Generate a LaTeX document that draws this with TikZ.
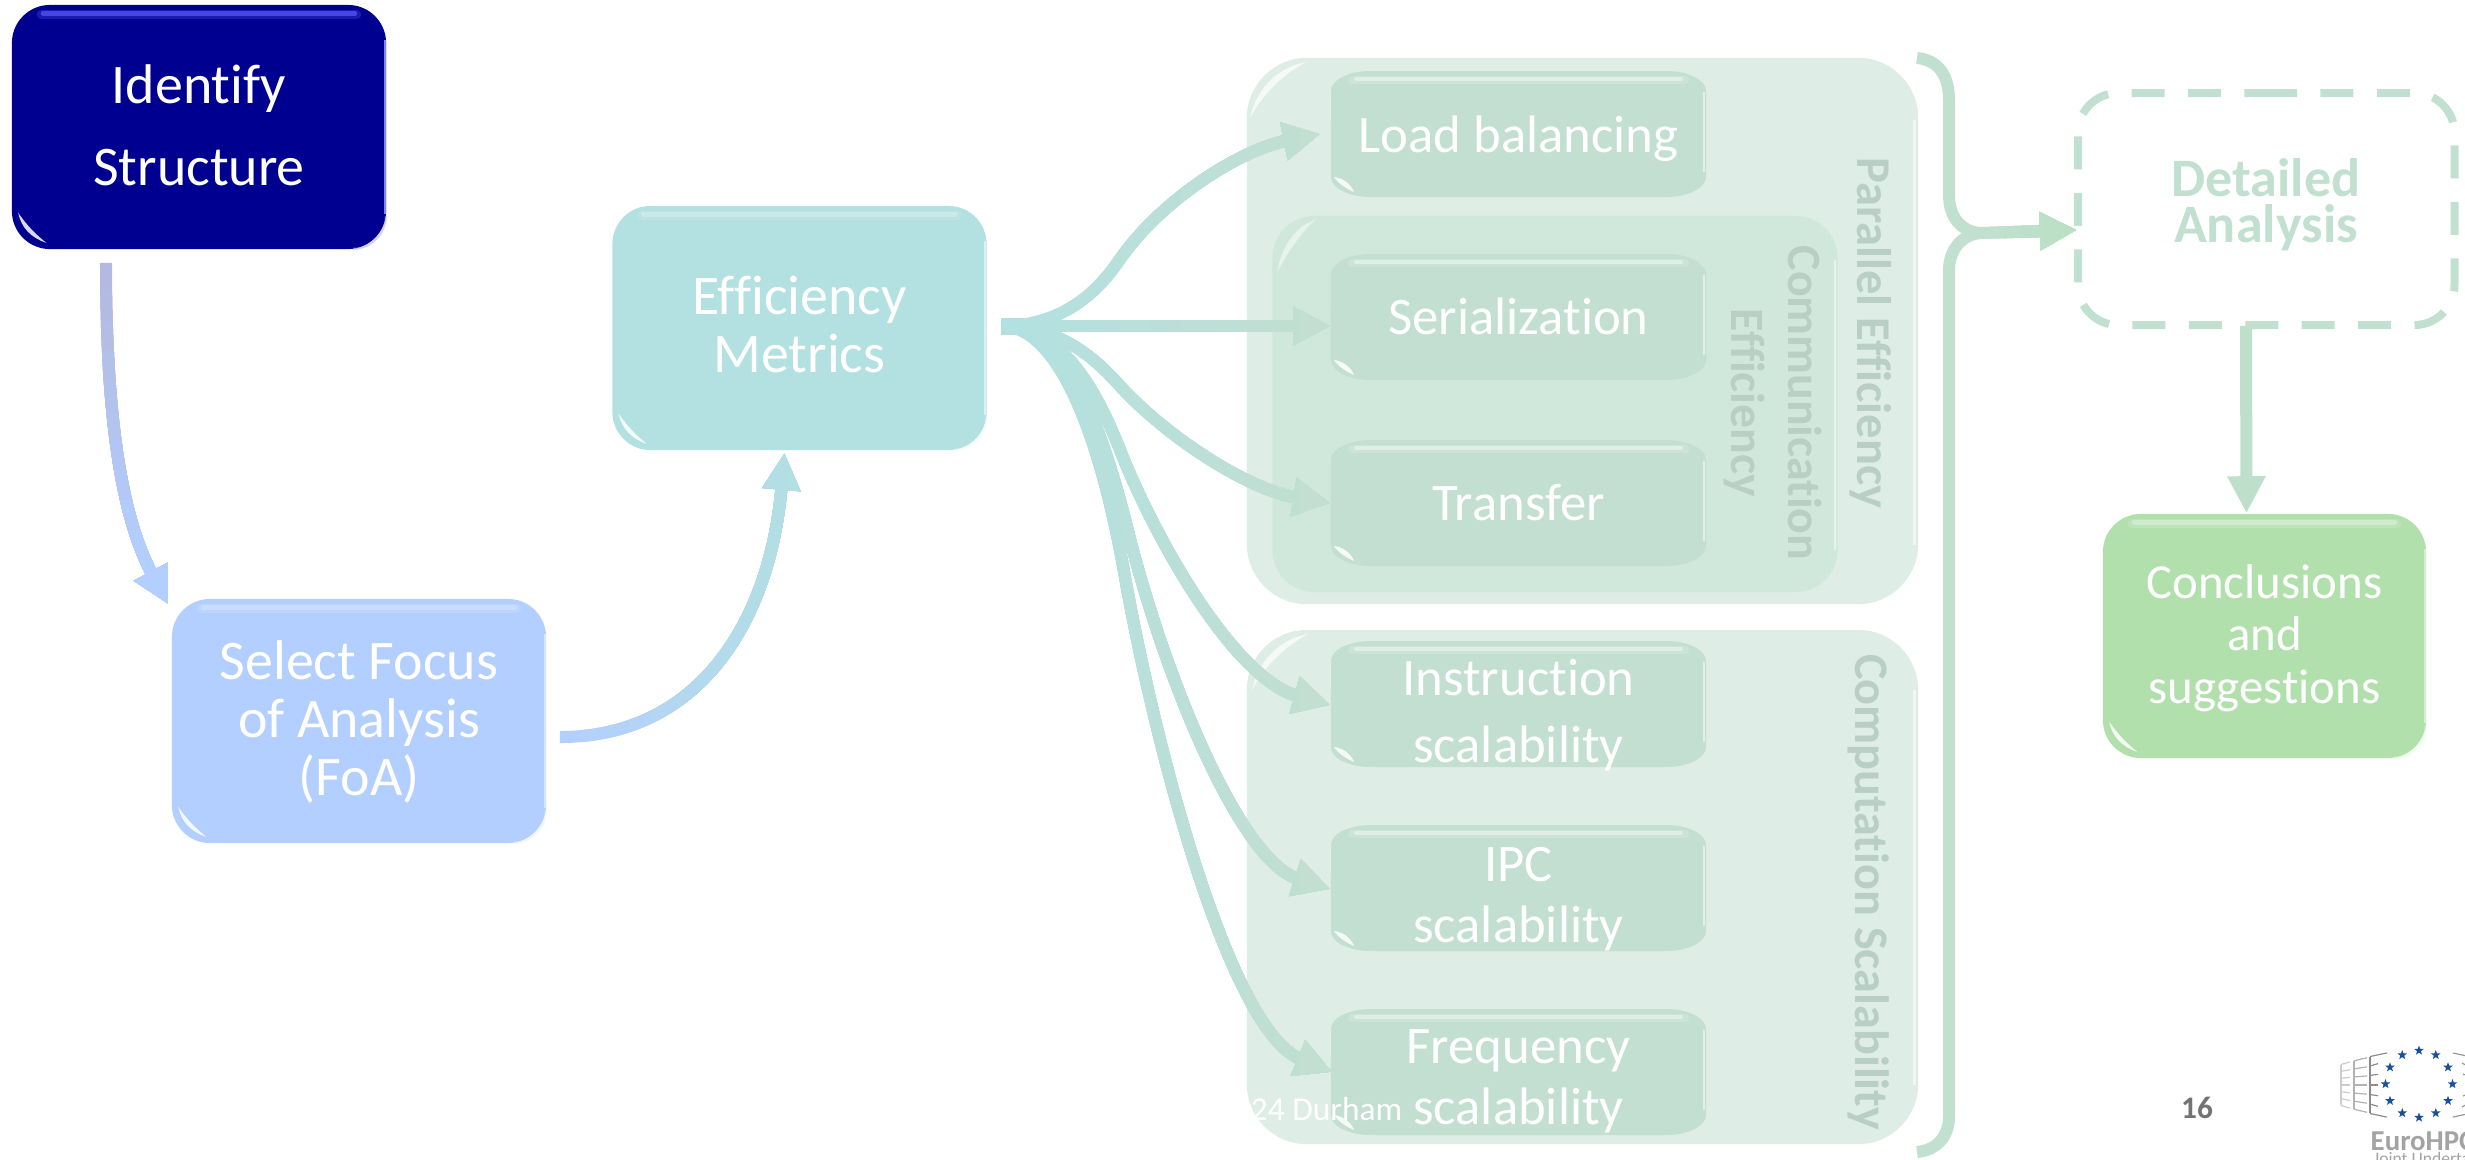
\documentclass[tikz,border=0pt]{standalone}
\usepackage{fontspec}
\setmainfont{Carlito}[Ligatures=NoCommon]
\usetikzlibrary{arrows.meta,shapes.geometric}
\definecolor{cId}{HTML}{000090}
\definecolor{cSel}{HTML}{B3CFFF}
\definecolor{cEff}{HTML}{B3E0E0}
\definecolor{cSoft}{HTML}{C2DFD2}
\definecolor{cOut}{HTML}{DEEDE6}
\definecolor{cCom}{HTML}{D0E7DC}
\definecolor{cCon}{HTML}{B2E0AC}
\definecolor{cDet}{HTML}{C2E0D0}
\definecolor{cLab}{HTML}{B9CFC6}
\definecolor{cIdArrow}{HTML}{B3B9E0}
\definecolor{cConArrow}{HTML}{BBE0C4}
\definecolor{cStar}{HTML}{1A4FA0}
\definecolor{cGrey}{HTML}{A3A3A3}
\tikzset{
  x=0.01cm,y=-0.01cm,
  bigbox/.style={rounded corners=.38cm,minimum width=3.74cm,minimum height=2.44cm,inner sep=0pt,text=white},
  softtxt/.style={inner sep=0pt,text=white,minimum width=3.75cm,minimum height=1.26cm},
  conn/.style={line width=.12cm,-{Triangle[length=.37cm,width=.36cm]}},
  vlabel/.style={rotate=-90,inner sep=0pt,align=center,text=cLab,font=\bfseries\fontsize{13.8}{14}\selectfont},
}
% centred text block moved up by #1 inside its node
\newcommand{\tx}[2]{\raisebox{\dimexpr#1-4.5pt\relax}[0pt][0pt]{\parbox{3.22cm}{\centering #2}}}
% progressive clipping along x, each step painted over the last
\newcommand{\gradx}[5]{\foreach \i in {0,...,10}{\begin{scope}
  \pgfmathsetmacro{\bx}{#1+(#2-#1)*\i/10}\pgfmathtruncatemacro{\mix}{100-10*\i}
  \clip (\bx,-100) rectangle (3000,1300);
  \draw[conn,draw=#3!\mix!#4] #5;
\end{scope}}}
\newcommand{\grady}[5]{\foreach \i in {0,...,10}{\begin{scope}
  \pgfmathsetmacro{\by}{#1+(#2-#1)*\i/10}\pgfmathtruncatemacro{\mix}{100-10*\i}
  \clip (-100,\by) rectangle (3000,1300);
  \draw[conn,draw=#3!\mix!#4] #5;
\end{scope}}}
% gloss on a big box: node name, top colour, right colour
\newcommand{\gloss}[3]{%
  \draw[line width=.09cm,draw=#2,opacity=.3,line cap=round] ([shift={(30,10)}]#1.north west) -- ([shift={(-30,10)}]#1.north east);
  \draw[line width=.05cm,draw=#2,opacity=.7,line cap=round] ([shift={(32,9)}]#1.north west) -- ([shift={(-32,9)}]#1.north east);
  \draw[line width=.02cm,draw=#3,opacity=.8] ([shift={(-2,36)}]#1.north east) -- ([shift={(-2,-36)}]#1.south east);
  \draw[line width=.02cm,draw=#3,opacity=.5] ([shift={(-34,-1)}]#1.south east) arc[start angle=-90,end angle=0,radius=.33cm];
  \fill[white,opacity=.85,shift={(#1.south west)}] (7,-37) .. controls (10,-22) and (20,-12) .. (35,-7) .. controls (24,-16) and (16,-24) .. cycle;
}
% soft-cornered box with its text: name, cy, text, font leading, text shift
\newcommand{\softbox}[5]{%
  \fill[cSoft] (1371,{#2-63}) -- (1666,{#2-63}) arc[start angle=90,end angle=0,x radius=.4cm,y radius=.2cm]
    -- (1706,{#2+43}) arc[start angle=0,end angle=-90,x radius=.4cm,y radius=.2cm]
    -- (1371,{#2+63}) arc[start angle=270,end angle=180,x radius=.4cm,y radius=.2cm]
    -- (1331,{#2-43}) arc[start angle=180,end angle=90,x radius=.4cm,y radius=.2cm] -- cycle;
  \draw[line width=.08cm,draw=white,opacity=.15,line cap=round] (1352,{#2-54}) -- (1685,{#2-54});
  \draw[line width=.04cm,draw=white,opacity=.4,line cap=round] (1356,{#2-55}) -- (1681,{#2-55});
  \draw[line width=.02cm,draw=white,opacity=.55] (1704,{#2-42}) -- (1704,{#2+38});
  \fill[white,opacity=.85] (1334,{#2+43}) .. controls (1338,{#2+49}) and (1345,{#2+54}) .. (1354,{#2+58}) .. controls (1351,{#2+50}) and (1343,{#2+44}) .. cycle;
  \node[softtxt,font=\fontsize{15}{#4}\selectfont] (#1) at (1518.5,#2) {\tx{#5}{#3}};
}
\begin{document}
\begin{tikzpicture}
\useasboundingbox (0,0) rectangle (2465,1159);
% outer panels
\node[rounded corners=.6cm,fill=cOut,minimum width=6.71cm,minimum height=5.46cm,inner sep=0pt] (par) at (1582.5,331) {};
\node[rounded corners=.6cm,fill=cOut,minimum width=6.71cm,minimum height=5.14cm,inner sep=0pt] (cmp) at (1582.5,887) {};
\fill[white,opacity=.7] (1250,118) .. controls (1256,90) and (1276,68) .. (1306,62) .. controls (1284,74) and (1264,92) .. cycle;
\fill[white,opacity=.7] (1252,690) .. controls (1258,662) and (1278,640) .. (1308,634) .. controls (1286,646) and (1266,664) .. cycle;
\draw[line width=.03cm,draw=white,opacity=.6] (1914,120) -- (1914,545);
\draw[line width=.03cm,draw=white,opacity=.6] (1914,690) -- (1914,1085);
\node[rounded corners=.42cm,fill=cCom,minimum width=5.65cm,minimum height=3.76cm,inner sep=0pt] (com) at (1555,404) {};
\fill[white,opacity=.5] (1277,272) .. controls (1282,245) and (1296,226) .. (1315,220) .. controls (1300,234) and (1288,252) .. cycle;
\draw[line width=.02cm,draw=white,opacity=.5] (1835,260) -- (1835,550);
% vertical labels
\node[vlabel] (lpar) at (1871,333) {Parallel Efficiency};
\node[vlabel,font=\bfseries\fontsize{13.6}{16}\selectfont] (lcom) at (1773,403) {Communication\\Efficiency};
\node[vlabel,font=\bfseries\fontsize{13.7}{14}\selectfont] (lcmp) at (1869,892) {Computation Scalability};
% metric boxes
\softbox{load}{134}{Load balancing}{16}{-0.4pt}
\softbox{ser}{317}{Serialization}{16}{1pt}
\softbox{tra}{503}{Transfer}{16}{1pt}
\softbox{ins}{704}{Instruction\\scalability}{19}{-2.2pt}
\softbox{ipc}{888}{IPC\\scalability}{17.4}{-2.2pt}
\softbox{fre}{1072}{Frequency\\scalability}{17.4}{-1.8pt}
% main boxes
\node[bigbox,fill=cId,font=\fontsize{15.9}{23.5}\selectfont] (id) at (199,127) {\tx{0.7pt}{Identify\\Structure}};
\gloss{id}{blue!65!white}{blue!35!white}
\node[bigbox,fill=cSel,font=\fontsize{15.9}{16.5}\selectfont] (sel) at (359,721) {\tx{0pt}{Select Focus\\of Analysis\\(FoA)}};
\gloss{sel}{cSel!60!white}{cSel!40!white}
\node[bigbox,fill=cEff,font=\fontsize{15.9}{16.5}\selectfont] (eff) at (799.5,328) {\tx{1.1pt}{Efficiency\\Metrics}};
\gloss{eff}{cEff!60!white}{cEff!30!white}
\node[bigbox,minimum width=3.23cm,fill=cCon,font=\fontsize{13.9}{14.9}\selectfont] (con) at (2264.5,636) {\tx{0.3pt}{Conclusions\\and\\suggestions}};
\gloss{con}{cCon!50!white}{cCon!40!white}
% dashed box: outline starts on a top dash
\node[minimum width=3.765cm,minimum height=2.32cm,inner sep=0pt,text=cDet,font=\bfseries\fontsize{15.4}{13.1}\selectfont] (det) at (2266,209) {\tx{2.1pt}{Detailed\\Analysis}};
\draw[rounded corners=.4cm,draw=cDet,line width=.08cm,dash pattern=on .33cm off .234cm] (2224,93) -- (2454.5,93) -- (2454.5,325) -- (2078,325) -- (2078,93) -- cycle;
% brace
\coordinate (bracetip) at (1981,233);
\draw[line width=.12cm,draw=cDet] (1917,58) .. controls (1938,60) and (1949,75) .. (1949,100) -- (1949,195) .. controls (1949,218) and (1962,232) .. (bracetip);
\draw[line width=.12cm,draw=cDet] (bracetip) .. controls (1962,234) and (1949,250) .. (1949,270) -- (1949,1117) .. controls (1949,1135) and (1938,1150) .. (1917,1152);
% connectors
\grady{262}{560}{cIdArrow}{cSel}{([shift={(-93,13)}]id.south) .. controls (106,400) and (118,510) .. ([shift={(-3,6)}]sel.north west)}
\gradx{558}{790}{cSel}{cEff}{([shift={(13,16)}]sel.east) .. controls (700,737) and (770,620) .. ([shift={(-15,2)}]eff.south)}
\coordinate (fan) at (1001,326);
\draw[line width=.17cm,draw=cEff!90!cSoft] (fan) -- (1040,326);
\gradx{1001}{1300}{cEff}{cSoft}{(fan) .. controls (1060,326) and (1095,295) .. (1118,262) .. controls (1160,200) and (1240,150) .. ([shift={(-10,0)}]load.west)}
\gradx{1001}{1300}{cEff}{cSoft}{(fan) -- ([shift={(0,9)}]ser.west)}
\gradx{1001}{1300}{cEff}{cSoft}{(fan) .. controls (1060,326) and (1095,358) .. (1120,386) .. controls (1170,440) and (1250,490) .. (tra.west)}
\gradx{1001}{1300}{cEff}{cSoft}{(fan) .. controls (1060,326) and (1095,385) .. (1122,455) .. controls (1165,560) and (1240,680) .. ([shift={(0,1)}]ins.west)}
\gradx{1001}{1300}{cEff}{cSoft}{(fan) .. controls (1070,326) and (1105,440) .. (1127,527) .. controls (1165,680) and (1240,860) .. ([shift={(0,1)}]ipc.west)}
\gradx{1001}{1300}{cEff}{cSoft}{(fan) .. controls (1060,326) and (1100,440) .. (1123,566) .. controls (1155,750) and (1230,1030) .. ([shift={(2,0)}]fre.west)}
\gradx{1981}{2060}{cDet}{cConArrow}{(bracetip) -- ([shift={(0,21)}]det.west)}
\draw[conn,draw=cConArrow!50!cDet] ([shift={(-20,0)}]det.south) -- ([shift={(-18,0)}]con.north);
% footer
\node[anchor=base east,inner sep=0pt,text=white,font=\fontsize{9.5}{10}\selectfont] (foot) at (1403,1120) {2024 Durham};
\node[anchor=base,inner sep=0pt,text=black!55!white,font=\bfseries\fontsize{8.9}{10}\selectfont] (page) at (2197,1118) {16};
% logo
\foreach \a [count=\k] in {90,60,...,-240}{\node[star,star points=5,star point ratio=2.4,fill=cStar,inner sep=0pt,minimum size=.1cm] (st\k) at ({2419+33.5*cos(\a)},{1084-33.5*sin(\a)}) {};}
\foreach \xa/\xb/\sc/\g in {2370/2378/1/45,2354/2367/.85/30,2341/2350/.72/20}{
  \draw[line width=.012cm,draw=black!\g] (\xa,{1085-28*\sc}) -- (\xa,{1085+28*\sc});
  \foreach \t in {-20,-10,0,10,20}{\draw[line width=.012cm,draw=black!\g] (\xa,{1085+\t*\sc*.95}) -- (\xb,{1085+\t*\sc*1.07});}
}
\foreach \xa/\xb/\sc/\g in {2370/2387/1/45,2354/2367/.85/30,2341/2350/.72/20}{\foreach \t in {-30,30}{\draw[line width=.012cm,draw=black!\g] (\xa,{1085+\t*\sc*.95}) -- (\xb,{1085+\t*\sc*1.07});}}
\foreach \xa/\t in {2453/-32,2462/-22,2463/-11,2463/11,2462/22,2453/32}{\draw[line width=.012cm,draw=black!40] (\xa,{1085+\t}) -- (2465,{1085+\t*.92});}
\node[anchor=base west,inner sep=0pt,text=cGrey,font=\bfseries\fontsize{8.2}{9}\selectfont] (euro) at (2370,1150) {EuroHPC};
\node[anchor=base west,inner sep=0pt,text=cGrey,font=\fontsize{5}{6}\selectfont] (joint) at (2373,1164) {Joint Undertaking};
\end{tikzpicture}
\end{document}
